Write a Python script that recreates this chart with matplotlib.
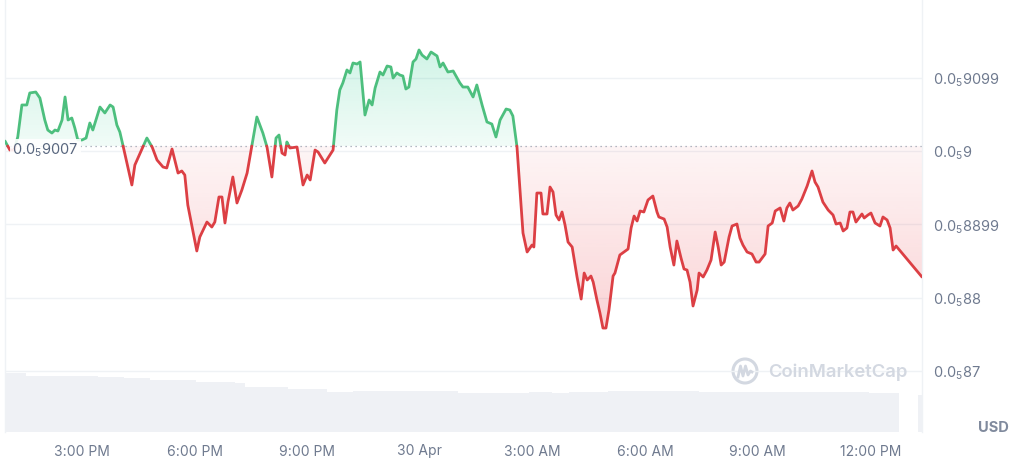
import numpy as np
import matplotlib
matplotlib.use('Agg')
import matplotlib.pyplot as plt
from matplotlib.path import Path
from matplotlib.colors import to_rgb
from matplotlib.patches import Ellipse
from matplotlib.transforms import blended_transform_factory

plt.rcParams['font.family'] = ['Inter', 'DejaVu Sans']
plt.rcParams['mathtext.fontset'] = 'custom'
plt.rcParams['mathtext.rm'] = 'Inter'

# hours since 29 Apr 00:00, price in units of 1e-6 USD
times = [
    12.95, 13.08, 13.19, 13.29, 13.40, 13.53, 13.61, 13.77, 13.88, 14.01,
    14.09, 14.20, 14.28, 14.36, 14.47, 14.55, 14.63, 14.73, 14.81, 14.89,
    15.00, 15.11, 15.21, 15.29, 15.48, 15.61, 15.75, 15.83, 15.93, 16.01,
    16.09, 16.33, 16.41, 16.55, 16.73, 16.87, 17.00, 17.16, 17.26, 17.40,
    17.56, 17.66, 17.74, 17.82, 18.06, 18.14, 18.33, 18.46, 18.54, 18.65,
    18.73, 18.81, 18.89, 19.02, 19.13, 19.26, 19.40, 19.66, 19.82, 19.93,
    20.06, 20.17, 20.25, 20.33, 20.41, 20.46, 20.54, 20.73, 20.89, 21.00,
    21.08, 21.21, 21.29, 21.47, 21.69, 21.79, 21.87, 21.95, 22.06, 22.14,
    22.22, 22.33, 22.41, 22.54, 22.65, 22.73, 22.81, 22.94, 23.02, 23.13,
    23.23, 23.29, 23.39, 23.47, 23.55, 23.63, 23.71, 23.82, 23.90, 23.98,
    24.06, 24.19, 24.30, 24.46, 24.54, 24.62, 24.75, 24.89, 25.07, 25.15,
    25.28, 25.42, 25.52, 25.66, 25.79, 25.92, 26.03, 26.14, 26.30, 26.40,
    26.48, 26.59, 26.75, 26.86, 26.99, 27.04, 27.12, 27.23, 27.28, 27.39,
    27.47, 27.55, 27.63, 27.71, 27.79, 27.87, 27.95, 28.06, 28.19, 28.30,
    28.38, 28.46, 28.56, 28.62, 28.72, 28.80, 28.88, 28.96, 29.04, 29.15,
    29.20, 29.33, 29.44, 29.55, 29.63, 29.71, 29.79, 29.87, 29.97, 30.08,
    30.21, 30.32, 30.37, 30.51, 30.59, 30.67, 30.77, 30.85, 30.96, 31.04,
    31.12, 31.20, 31.28, 31.39, 31.44, 31.55, 31.65, 31.76, 31.87, 31.95,
    32.03, 32.11, 32.24, 32.32, 32.45, 32.53, 32.61, 32.72, 32.85, 32.96,
    33.04, 33.12, 33.20, 33.28, 33.39, 33.47, 33.60, 33.70, 33.78, 33.86,
    33.94, 34.08, 34.18, 34.32, 34.45, 34.53, 34.61, 34.74, 34.88, 35.01,
    35.09, 35.20, 35.28, 35.38, 35.46, 35.54, 35.62, 35.78, 35.84, 35.94,
    36.02, 36.13, 36.26, 36.34, 36.45, 36.53, 36.61, 36.69, 37.38,
]
prices = [
    9.0138, 9.0015, 9.0015, 9.0193, 9.0630, 9.0630, 9.0794, 9.0807, 9.0725, 9.0425,
    9.0288, 9.0247, 9.0288, 9.0275, 9.0425, 9.0739, 9.0425, 9.0452, 9.0316, 9.0152,
    9.0152, 9.0179, 9.0384, 9.0288, 9.0602, 9.0521, 9.0630, 9.0602, 9.0357, 9.0261,
    9.0084, 8.9538, 8.9811, 8.9974, 9.0179, 9.0056, 8.9879, 8.9783, 8.9770, 9.0029,
    8.9701, 8.9729, 8.9674, 8.9265, 8.8637, 8.8828, 8.9032, 8.8964, 8.9032, 8.9374,
    8.9374, 8.9019, 8.9305, 8.9647, 8.9292, 8.9469, 8.9701, 9.0466, 9.0247, 9.0056,
    8.9647, 9.0179, 9.0220, 8.9974, 8.9947, 9.0125, 9.0043, 9.0056, 8.9538, 8.9674,
    8.9606, 9.0015, 8.9988, 8.9838, 9.0015, 9.0561, 9.0835, 9.0930, 9.1108, 9.1067,
    9.1203, 9.1189, 9.1217, 9.0493, 9.0698, 9.0630, 9.0862, 9.1080, 9.1039, 9.1162,
    9.1149, 9.0998, 9.1067, 9.1039, 9.1026, 9.0848, 9.0875, 9.1217, 9.1258, 9.1381,
    9.1312, 9.1258, 9.1353, 9.1299, 9.1149, 9.1203, 9.1080, 9.1094, 9.0930, 9.0875,
    9.0875, 9.0739, 9.0903, 9.0630, 9.0398, 9.0370, 9.0193, 9.0425, 9.0575, 9.0561,
    9.0480, 9.0056, 8.8882, 8.8623, 8.8718, 8.8691, 8.9428, 8.9428, 8.9142, 8.9142,
    8.9510, 8.9442, 8.9128, 8.9060, 8.9169, 8.8991, 8.8759, 8.8691, 8.8282, 8.7981,
    8.8336, 8.8241, 8.8295, 8.8213, 8.7968, 8.7790, 8.7585, 8.7585, 8.7831, 8.8295,
    8.8336, 8.8582, 8.8623, 8.8664, 8.8951, 8.9114, 8.9046, 8.9183, 8.9169, 8.9333,
    8.9387, 8.9169, 8.9101, 8.9073, 8.8964, 8.8691, 8.8445, 8.8773, 8.8541, 8.8391,
    8.8377, 8.8213, 8.7886, 8.8104, 8.8336, 8.8282, 8.8377, 8.8514, 8.8896, 8.8691,
    8.8445, 8.8486, 8.8828, 8.8978, 8.9005, 8.8814, 8.8718, 8.8623, 8.8596, 8.8486,
    8.8486, 8.8541, 8.8596, 8.8978, 8.9019, 8.9183, 8.9224, 8.9046, 8.9224, 8.9292,
    8.9196, 8.9251, 8.9346, 8.9524, 8.9729, 8.9578, 8.9510, 8.9305, 8.9196, 8.9128,
    8.9005, 8.9019, 8.8910, 8.8951, 8.9169, 8.9169, 8.9032, 8.9142, 8.9087, 8.9128,
    8.9155, 8.9019, 8.8978, 8.9101, 8.9060, 8.8951, 8.8650, 8.8705, 8.8282,
]
base_price = 9.007

# 24h volume (relative), step segments
vol_edges = [12.95, 13.51, 15.43, 16.12, 16.81, 18.04, 19.08, 19.34, 20.49, 21.53, 22.22,
             25.02, 26.91, 27.52, 27.98, 29.02, 31.44, 35.97, 36.77, 37.28, 37.38]
vol_values = [59, 56, 55, 54, 52, 50, 49, 45, 43, 40, 41, 39, 40, 39, 40, 41, 40, 39, 0, 37]

xtick_pos = [15, 18, 21, 24, 27, 30, 33, 36]
xtick_labels = ['3:00 PM', '6:00 PM', '9:00 PM', '30 Apr', '3:00 AM', '6:00 AM', '9:00 AM', '12:00 PM']
ytick_pos = [9.1, 9.0, 8.9, 8.8, 8.7]
ytick_labels = [r'0.0$_\mathregular{5}$9099', r'0.0$_\mathregular{5}$9', r'0.0$_\mathregular{5}$8899',
                r'0.0$_\mathregular{5}$88', r'0.0$_\mathregular{5}$87']

GREEN = '#16c784'
RED = '#ea3943'
GREEN_LINE = '#4dbf7e'
RED_LINE = '#dc3f44'
TEXT = '#6f7a8f'

x = np.array(times)
y = np.array(prices)


def split_at_base(x, y, base):
    xs, ys = [x[0]], [y[0]]
    for i in range(1, len(x)):
        if (y[i - 1] - base) * (y[i] - base) < 0:
            t = (base - y[i - 1]) / (y[i] - y[i - 1])
            xs.append(x[i - 1] + t * (x[i] - x[i - 1]))
            ys.append(base)
        xs.append(x[i])
        ys.append(y[i])
    return np.array(xs), np.array(ys)


def gradient_fill(ax, xs, ys, base, where, color, a_near, a_far, lo, hi, near_at_bottom):
    poly = ax.fill_between(xs, ys, base, where=where, interpolate=True,
                           facecolor='none', edgecolor='none')
    path = Path.make_compound_path(*poly.get_paths())
    n = 256
    img = np.zeros((n, 1, 4))
    img[..., :3] = to_rgb(color)
    if near_at_bottom:
        img[:, 0, 3] = np.linspace(a_near, a_far, n)
    else:
        img[:, 0, 3] = np.linspace(a_far, a_near, n)
    im = ax.imshow(img, extent=[xs[0], xs[-1], lo, hi], origin='lower',
                   aspect='auto', zorder=1, interpolation='bilinear')
    im.set_clip_path(path, transform=ax.transData)


fig = plt.figure(figsize=(10.24, 4.75), dpi=100)
ax = fig.add_axes([5 / 1024, 43 / 475, 917 / 1024, 432 / 475])
ax2 = ax.twinx()

# volume in background
ax2.stairs(vol_values, vol_edges, fill=True, color='#eff1f5', lw=0)
ax2.set_ylim(0, 432)
ax2.set_yticks([])
for s in ax2.spines.values():
    s.set_visible(False)
ax.set_zorder(ax2.get_zorder() + 1)
ax.patch.set_visible(False)

xs, ys = split_at_base(x, y, base_price)
gradient_fill(ax, xs, ys, base_price, ys >= base_price, GREEN, 0.06, 0.20,
              base_price, ys.max(), near_at_bottom=True)
gradient_fill(ax, xs, ys, base_price, ys <= base_price, RED, 0.05, 0.22,
              ys.min(), base_price, near_at_bottom=False)

up = np.where(ys >= base_price, ys, np.nan)
down = np.where(ys <= base_price, ys, np.nan)
ax.plot(xs, up, color=GREEN_LINE, lw=2.0, zorder=3, solid_joinstyle='round', solid_capstyle='round')
ax.plot(xs, down, color=RED_LINE, lw=2.0, zorder=3, solid_joinstyle='round', solid_capstyle='round')

ax.axhline(base_price, color='#9aa2b1', lw=0.9, ls=(0, (1, 3)), zorder=2)

ax.set_xlim(x[0], x[-1])
ax.set_ylim(8.6166, 9.2063)

ax.set_xticks(xtick_pos)
ax.set_xticklabels(xtick_labels)
ax.set_yticks(ytick_pos)
ax.set_yticklabels(ytick_labels)
ax.yaxis.tick_right()
ax.tick_params(axis='x', length=0, pad=9, labelsize=10, labelcolor=TEXT)
ax.tick_params(axis='y', length=0, pad=8, labelsize=10.5, labelcolor=TEXT)
ax.grid(axis='y', color='#eff2f5', lw=1, zorder=0)
ax.set_axisbelow(True)
for side in ['top', 'bottom']:
    ax.spines[side].set_visible(False)
for side in ['left', 'right']:
    ax.spines[side].set_color('#eff2f5')
    ax.spines[side].set_linewidth(1)

# baseline label
trans = blended_transform_factory(ax.transAxes, ax.transData)
ax.text(0.008, base_price - 0.005, r'0.0$_\mathregular{5}$9007', transform=trans,
        ha='left', va='center', fontsize=10.5, color='#58667e', zorder=5,
        bbox=dict(boxstyle='square,pad=0.15', fc='white', ec='none', alpha=0.9))

fig.text(993 / 1024, 47 / 475, 'USD', ha='center', va='center',
         fontsize=10.5, fontweight='bold', color='#808a9d')

# watermark
wm = '#d3d8e1'
fig.add_artist(Ellipse((745 / 1024, 104 / 475), 24 / 1024, 24 / 475,
                       transform=fig.transFigure, fill=False, ec=wm, lw=2.2))
wave_x = np.array([738, 740.5, 743, 745.5, 748, 750.5, 752]) / 1024
wave_y = (475 - np.array([377, 366, 376, 366, 375, 371, 372])) / 475
fig.add_artist(plt.Line2D(wave_x, wave_y, transform=fig.transFigure, color=wm, lw=2))
fig.text(768 / 1024, 103 / 475, 'CoinMarketCap', ha='left', va='center',
         fontsize=13.3, fontweight='semibold', color=wm)

fig.savefig('out.png', dpi=100)
